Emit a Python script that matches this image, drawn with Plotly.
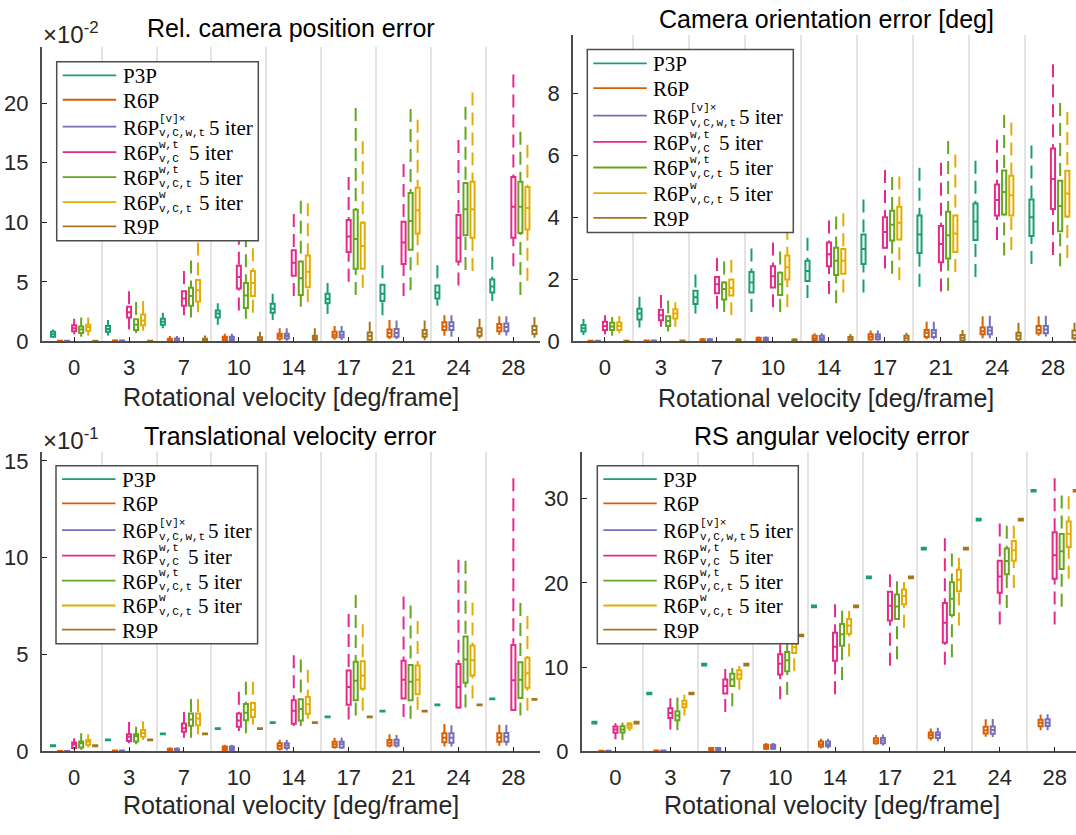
import plotly.graph_objects as go

# ---------------------------------------------------------------------------
# Categories and methods
# ---------------------------------------------------------------------------
VELOCITY_LABELS = ["0", "3", "7", "10", "14", "17", "21", "24", "28"]
METHODS = ["P3P", "R6P", "R6Pv", "R6Pwt_vC", "R6Pwt_vCt", "R6Pw_vCt", "R9P"]
COLORS = ["#1b9e77", "#d95f02", "#7570b3", "#e7298a", "#66a61e", "#e6ab02", "#a6761d"]

# ---------------------------------------------------------------------------
# Box statistics, one row per method (order of METHODS), one column per velocity
# lo / hi = whisker ends, q1 / med / q3 = box
# ---------------------------------------------------------------------------
# Rel. camera position error (x 1e-2)
POS_LO = [
    [0.3, 0.5, 1.1, 1.4, 1.8, 2.3, 2.2, 3.0, 3.4],
    [0.0, 0.0, 0.0, 0.02, 0.05, 0.14, 0.2, 0.47, 0.55],
    [0.0, 0.0, 0.0, 0.02, 0.05, 0.12, 0.2, 0.4, 0.5],
    [0.6, 1.0, 2.2, 2.6, 3.8, 5.0, 3.8, 4.7, 6.3],
    [0.4, 0.7, 2.0, 1.9, 2.9, 3.9, 4.3, 6.0, 3.9],
    [0.5, 0.9, 2.45, 2.4, 3.3, 4.5, 6.4, 5.9, 5.1],
    [0.0, 0.0, 0.0, 0.0, 0.05, 0.05, 0.1, 0.25, 0.3],
]
POS_Q1 = [
    [0.4, 0.8, 1.4, 2.0, 2.4, 3.2, 3.4, 3.6, 4.1],
    [0.0, 0.0, 0.05, 0.1, 0.25, 0.35, 0.4, 0.95, 0.85],
    [0.0, 0.0, 0.05, 0.1, 0.25, 0.35, 0.4, 0.95, 0.85],
    [0.85, 2.0, 3.0, 4.45, 5.5, 7.5, 6.5, 6.7, 8.7],
    [0.7, 0.95, 3.0, 2.8, 3.9, 6.1, 7.7, 8.9, 9.1],
    [0.9, 1.35, 3.35, 3.8, 4.55, 6.1, 9.05, 8.7, 9.4],
    [0.0, 0.0, 0.0, 0.05, 0.14, 0.14, 0.4, 0.47, 0.63],
]
POS_MED = [
    [0.6, 1.05, 1.65, 2.35, 2.75, 3.55, 4.0, 4.1, 4.6],
    [0.02, 0.03, 0.12, 0.22, 0.45, 0.55, 0.7, 1.25, 1.15],
    [0.02, 0.03, 0.12, 0.22, 0.45, 0.55, 0.7, 1.3, 1.2],
    [1.1, 2.45, 3.6, 5.4, 6.6, 8.8, 8.3, 8.7, 11.3],
    [1.0, 1.4, 3.8, 3.85, 5.3, 8.6, 10.1, 11.1, 11.3],
    [1.2, 1.75, 4.3, 4.9, 5.85, 8.0, 11.0, 11.1, 11.2],
    [0.02, 0.02, 0.1, 0.15, 0.3, 0.45, 0.65, 0.8, 0.95],
]
POS_Q3 = [
    [0.8, 1.3, 1.9, 2.6, 3.15, 4.0, 4.75, 4.7, 5.2],
    [0.05, 0.08, 0.22, 0.38, 0.65, 0.8, 1.0, 1.6, 1.45],
    [0.05, 0.08, 0.25, 0.38, 0.65, 0.8, 1.05, 1.6, 1.5],
    [1.35, 2.9, 4.2, 6.35, 7.65, 10.2, 10.05, 10.6, 13.8],
    [1.25, 1.85, 4.5, 4.9, 6.7, 11.05, 12.45, 13.3, 13.4],
    [1.4, 2.25, 5.15, 5.9, 7.2, 9.95, 12.9, 13.4, 12.95],
    [0.05, 0.05, 0.22, 0.35, 0.47, 0.74, 0.96, 1.1, 1.29],
]
POS_HI = [
    [1.0, 1.8, 2.4, 3.2, 4.0, 4.9, 6.4, 6.4, 7.1],
    [0.08, 0.15, 0.45, 0.65, 1.1, 1.3, 1.8, 2.2, 2.1],
    [0.08, 0.15, 0.45, 0.65, 1.1, 1.3, 1.75, 2.2, 2.1],
    [1.9, 4.2, 5.9, 9.2, 10.7, 13.8, 14.9, 16.9, 22.4],
    [2.0, 3.3, 6.8, 9.0, 11.8, 19.6, 19.5, 19.7, 17.6],
    [2.0, 3.4, 8.3, 9.5, 11.6, 16.8, 18.6, 20.9, 16.5],
    [0.08, 0.08, 0.5, 0.8, 1.1, 1.65, 1.75, 1.9, 2.05],
]

# Camera orientation error [deg]
ORI_LO = [
    [0.21, 0.45, 0.9, 0.95, 1.4, 1.58, 1.76, 2.08, 2.5],
    [0.0, 0.0, 0.0, 0.01, 0.02, 0.03, 0.07, 0.1, 0.18],
    [0.0, 0.0, 0.0, 0.01, 0.02, 0.03, 0.07, 0.1, 0.16],
    [0.23, 0.47, 1.05, 1.1, 1.53, 2.35, 1.61, 3.27, 2.79],
    [0.18, 0.32, 0.95, 0.95, 1.23, 2.18, 1.63, 2.77, 2.42],
    [0.26, 0.47, 0.84, 1.1, 1.58, 1.97, 2.24, 2.95, 2.69],
    [0.0, 0.0, 0.0, 0.0, 0.0, 0.0, 0.0, 0.0, 0.03],
]
ORI_Q1 = [
    [0.32, 0.71, 1.21, 1.58, 1.95, 2.5, 2.85, 3.27, 3.4],
    [0.0, 0.0, 0.0, 0.04, 0.04, 0.06, 0.14, 0.23, 0.26],
    [0.0, 0.0, 0.0, 0.04, 0.04, 0.07, 0.14, 0.23, 0.26],
    [0.37, 0.68, 1.55, 1.74, 2.42, 3.02, 2.55, 4.06, 4.27],
    [0.37, 0.5, 1.35, 1.5, 2.14, 3.25, 2.67, 4.09, 3.55],
    [0.37, 0.74, 1.48, 2.0, 2.18, 3.29, 2.88, 4.06, 4.03],
    [0.0, 0.0, 0.0, 0.0, 0.0, 0.0, 0.03, 0.07, 0.1],
]
ORI_MED = [
    [0.42, 0.9, 1.42, 1.9, 2.27, 2.98, 3.45, 3.87, 4.0],
    [0.01, 0.01, 0.03, 0.08, 0.1, 0.15, 0.28, 0.33, 0.37],
    [0.01, 0.01, 0.03, 0.08, 0.1, 0.15, 0.28, 0.35, 0.38],
    [0.5, 0.84, 1.84, 2.1, 2.81, 3.53, 3.14, 4.56, 5.24],
    [0.48, 0.66, 1.69, 1.84, 2.6, 3.76, 3.42, 4.82, 4.37],
    [0.5, 0.9, 1.72, 2.39, 2.6, 3.83, 3.48, 4.71, 4.77],
    [0.01, 0.01, 0.03, 0.03, 0.07, 0.1, 0.12, 0.18, 0.2],
]
ORI_Q3 = [
    [0.53, 1.05, 1.63, 2.24, 2.6, 3.45, 4.06, 4.45, 4.58],
    [0.02, 0.03, 0.07, 0.12, 0.18, 0.23, 0.37, 0.45, 0.5],
    [0.02, 0.03, 0.07, 0.12, 0.18, 0.22, 0.37, 0.46, 0.5],
    [0.63, 1.02, 2.08, 2.42, 3.19, 4.0, 3.72, 5.06, 6.22],
    [0.6, 0.81, 1.9, 2.21, 3.02, 4.21, 4.18, 5.51, 5.18],
    [0.61, 1.04, 2.0, 2.77, 2.98, 4.34, 4.06, 5.34, 5.5],
    [0.02, 0.03, 0.06, 0.06, 0.14, 0.18, 0.21, 0.28, 0.35],
]
ORI_HI = [
    [0.72, 1.44, 2.16, 3.0, 3.34, 4.58, 5.6, 5.83, 6.32],
    [0.03, 0.04, 0.1, 0.16, 0.26, 0.35, 0.63, 0.81, 0.81],
    [0.03, 0.04, 0.1, 0.16, 0.26, 0.35, 0.63, 0.83, 0.83],
    [0.84, 1.5, 2.69, 3.19, 3.9, 5.53, 5.76, 6.5, 8.94],
    [0.79, 1.32, 2.58, 2.9, 4.03, 5.3, 6.46, 7.3, 7.69],
    [0.82, 1.26, 2.63, 3.7, 4.13, 5.32, 6.03, 7.06, 7.4],
    [0.03, 0.04, 0.1, 0.1, 0.24, 0.28, 0.37, 0.6, 0.6],
]

# Translational velocity error (x 1e-1)
TVEL_LO = [
    [0.27, 0.57, 0.88, 1.16, 1.47, 1.76, 2.06, 2.38, 2.69],
    [0.0, 0.0, 0.0, 0.02, 0.05, 0.13, 0.2, 0.25, 0.29],
    [0.0, 0.0, 0.0, 0.02, 0.05, 0.12, 0.2, 0.25, 0.3],
    [0.1, 0.42, 0.71, 1.05, 1.31, 1.65, 1.77, 2.22, 2.1],
    [0.08, 0.37, 0.71, 0.93, 1.31, 1.85, 1.68, 2.27, 1.85],
    [0.2, 0.59, 0.88, 1.39, 1.68, 2.1, 2.15, 2.73, 2.1],
    [0.27, 0.57, 0.88, 1.16, 1.47, 1.76, 2.06, 2.38, 2.67],
]
TVEL_Q1 = [
    [0.27, 0.57, 0.88, 1.16, 1.47, 1.76, 2.06, 2.38, 2.69],
    [0.0, 0.0, 0.03, 0.05, 0.14, 0.22, 0.3, 0.47, 0.5],
    [0.0, 0.0, 0.03, 0.05, 0.17, 0.2, 0.3, 0.45, 0.5],
    [0.17, 0.54, 1.02, 1.27, 1.43, 2.41, 2.73, 2.26, 2.14],
    [0.2, 0.51, 1.32, 1.61, 1.6, 2.64, 2.64, 3.54, 2.76],
    [0.34, 0.76, 1.35, 1.78, 1.94, 3.23, 2.95, 3.92, 3.28],
    [0.27, 0.57, 0.88, 1.16, 1.47, 1.76, 2.06, 2.38, 2.67],
]
TVEL_MED = [
    [0.29, 0.59, 0.9, 1.18, 1.49, 1.78, 2.08, 2.4, 2.71],
    [0.01, 0.02, 0.08, 0.15, 0.28, 0.37, 0.45, 0.7, 0.72],
    [0.01, 0.02, 0.08, 0.15, 0.3, 0.37, 0.45, 0.7, 0.75],
    [0.35, 0.75, 1.2, 1.6, 2.1, 3.32, 3.7, 3.32, 3.67],
    [0.42, 0.78, 1.65, 2.0, 2.19, 3.65, 3.59, 4.75, 3.7],
    [0.5, 0.95, 1.7, 2.15, 2.44, 3.92, 3.7, 4.71, 4.04],
    [0.29, 0.59, 0.9, 1.18, 1.49, 1.78, 2.08, 2.4, 2.69],
]
TVEL_Q3 = [
    [0.31, 0.61, 0.92, 1.2, 1.51, 1.8, 2.1, 2.42, 2.73],
    [0.02, 0.04, 0.13, 0.25, 0.42, 0.5, 0.59, 0.93, 0.93],
    [0.02, 0.04, 0.13, 0.25, 0.42, 0.5, 0.6, 0.93, 0.95],
    [0.46, 0.88, 1.44, 1.95, 2.64, 4.18, 4.68, 4.51, 5.5],
    [0.51, 0.88, 1.95, 2.45, 2.69, 4.63, 4.46, 5.93, 4.6],
    [0.59, 1.1, 1.95, 2.5, 2.81, 4.66, 4.43, 5.47, 4.83],
    [0.31, 0.61, 0.92, 1.2, 1.51, 1.8, 2.1, 2.42, 2.71],
]
TVEL_HI = [
    [0.31, 0.61, 0.92, 1.2, 1.51, 1.8, 2.1, 2.42, 2.73],
    [0.04, 0.06, 0.2, 0.34, 0.6, 0.71, 0.88, 1.41, 1.38],
    [0.04, 0.06, 0.2, 0.34, 0.6, 0.72, 0.85, 1.35, 1.38],
    [0.68, 1.52, 2.03, 3.08, 4.97, 7.1, 8.0, 9.9, 14.1],
    [0.93, 1.27, 2.71, 3.6, 4.75, 8.08, 7.54, 9.85, 7.66],
    [0.88, 1.56, 2.71, 3.6, 4.21, 6.57, 6.73, 7.69, 6.99],
    [0.31, 0.61, 0.92, 1.2, 1.51, 1.8, 2.1, 2.42, 2.71],
]

# RS angular velocity error
RS_LO = [
    [3.31, 6.77, 10.2, 13.65, 17.1, 20.54, 23.96, 27.41, 30.83],
    [0.0, 0.0, 0.02, 0.2, 0.35, 0.78, 1.28, 1.75, 2.52],
    [0.0, 0.0, 0.02, 0.2, 0.35, 0.7, 1.2, 1.7, 2.5],
    [1.44, 2.6, 4.66, 6.2, 6.79, 10.17, 10.28, 15.06, 15.06],
    [1.36, 2.52, 5.36, 6.69, 8.46, 10.94, 11.18, 17.0, 17.15],
    [2.41, 4.27, 7.3, 9.52, 11.25, 14.67, 14.94, 19.4, 20.49],
    [3.31, 6.77, 10.2, 13.65, 17.1, 20.54, 23.96, 27.41, 30.83],
]
RS_Q1 = [
    [3.31, 6.77, 10.2, 13.65, 17.1, 20.54, 23.96, 27.41, 30.83],
    [0.0, 0.02, 0.08, 0.31, 0.58, 0.97, 1.63, 2.13, 2.99],
    [0.0, 0.02, 0.08, 0.31, 0.6, 0.97, 1.6, 2.1, 3.0],
    [2.2, 3.96, 6.87, 9.13, 10.75, 15.52, 12.88, 18.82, 20.49],
    [2.25, 3.69, 7.76, 9.52, 12.53, 15.72, 16.18, 21.03, 21.65],
    [2.79, 5.24, 8.61, 11.66, 13.97, 17.46, 19.01, 22.62, 24.25],
    [3.31, 6.77, 10.2, 13.65, 17.1, 20.54, 23.96, 27.41, 30.83],
]
RS_MED = [
    [3.41, 6.87, 10.3, 13.75, 17.2, 20.64, 24.06, 27.51, 30.93],
    [0.02, 0.05, 0.25, 0.55, 0.85, 1.25, 1.95, 2.5, 3.4],
    [0.02, 0.05, 0.25, 0.55, 0.85, 1.3, 1.95, 2.55, 3.4],
    [2.6, 4.54, 7.76, 10.4, 12.42, 17.27, 15.25, 20.76, 23.28],
    [2.6, 4.27, 8.54, 10.8, 13.89, 17.19, 18.12, 22.58, 23.75],
    [3.1, 5.63, 9.12, 12.36, 14.94, 18.43, 20.37, 23.86, 25.8],
    [3.41, 6.87, 10.3, 13.75, 17.2, 20.64, 24.06, 27.51, 30.93],
]
RS_Q3 = [
    [3.51, 6.97, 10.4, 13.85, 17.3, 20.74, 24.16, 27.61, 31.03],
    [0.06, 0.1, 0.39, 0.78, 1.16, 1.55, 2.25, 2.91, 3.76],
    [0.06, 0.1, 0.39, 0.78, 1.16, 1.6, 2.25, 2.95, 3.8],
    [2.95, 5.12, 8.54, 11.54, 14.09, 18.94, 17.62, 22.62, 26.0],
    [2.99, 4.77, 9.2, 11.78, 15.13, 18.63, 20.06, 24.06, 25.8],
    [3.3, 6.01, 9.62, 12.82, 15.72, 19.21, 21.54, 24.95, 27.28],
    [3.51, 6.97, 10.4, 13.85, 17.3, 20.74, 24.16, 27.61, 31.03],
]
RS_HI = [
    [3.51, 6.97, 10.4, 13.85, 17.3, 20.74, 24.16, 27.61, 31.03],
    [0.1, 0.15, 0.5, 1.0, 1.5, 1.94, 2.72, 3.8, 4.38],
    [0.1, 0.15, 0.5, 1.0, 1.5, 2.0, 2.8, 3.85, 4.4],
    [3.35, 6.29, 9.78, 12.7, 17.46, 21.03, 25.3, 27.05, 32.4],
    [3.41, 6.4, 9.9, 13.2, 16.69, 20.18, 23.48, 26.78, 30.35],
    [3.49, 6.71, 10.17, 13.99, 16.69, 20.1, 22.97, 26.78, 30.27],
    [3.51, 6.97, 10.4, 13.85, 17.3, 20.74, 24.16, 27.61, 31.03],
]

# ---------------------------------------------------------------------------
# Page geometry (pixels) and styling
# ---------------------------------------------------------------------------
W, H = 1076, 835
AX_COLOR = "#4d4d4d"
TXT_COLOR = "#262626"
SANS = "Liberation Sans, Arial, sans-serif"
SERIF = "Liberation Serif, Times New Roman, serif"
MONO = "Liberation Mono, DejaVu Sans Mono, monospace"
OFFSET_STEP = 0.128
BOX_W = 0.074
LW = 2.0


def fx(px):
    return px / W


def fy(py):
    return 1 - py / H


PANELS = [
    dict(ax="", title="Rel. camera position error", title_xy=(291, 25),
         xpix=(41.7, 540), ypix=(45, 345), xr=(-0.591, 8.485), yr=(0, 24.7),
         yt=[0, 5, 10, 15, 20], label_xy=(291, 402), expo="-2", expo_xy=(41, 31),
         legend=(56.7, 60, 201.6, 182.3),
         stats=(POS_LO, POS_Q1, POS_MED, POS_Q3, POS_HI)),
    dict(ax="2", title="Camera orientation error [deg]", title_xy=(826.5, 16),
         xpix=(573, 1076), ypix=(33, 345), xr=(-0.571, 8.411), yr=(0, 9.87),
         yt=[0, 2, 4, 6, 8], label_xy=(826, 403), expo=None, expo_xy=None,
         legend=(587.3, 47.3, 206, 186.7),
         stats=(ORI_LO, ORI_Q1, ORI_MED, ORI_Q3, ORI_HI)),
    dict(ax="3", title="Translational velocity error", title_xy=(290, 441),
         xpix=(41.7, 540), ypix=(458, 763), xr=(-0.591, 8.485), yr=(0, 15.45),
         yt=[0, 5, 10, 15], label_xy=(290.5, 818), expo="-1", expo_xy=(41, 445),
         legend=(56, 471.7, 201.6, 181.6),
         stats=(TVEL_LO, TVEL_Q1, TVEL_MED, TVEL_Q3, TVEL_HI)),
    dict(ax="4", title="RS angular velocity error", title_xy=(831.8, 441),
         xpix=(581.7, 1076), ypix=(458, 763), xr=(-0.615, 8.389), yr=(0, 35.5),
         yt=[0, 10, 20, 30], label_xy=(831.5, 818), expo=None, expo_xy=None,
         legend=(597.3, 471.7, 201, 181.6),
         stats=(RS_LO, RS_Q1, RS_MED, RS_Q3, RS_HI)),
]

fig = go.Figure()
shapes = []
annotations = []

for p in PANELS:
    xa, ya = "x" + p["ax"], "y" + p["ax"]
    lo_s, q1_s, med_s, q3_s, hi_s = p["stats"]

    for k, color in enumerate(COLORS):
        xs = [g + (k - 3) * OFFSET_STEP for g in range(len(VELOCITY_LABELS))]

        # dashed whiskers: each drawn from its tip back to the box edge
        wx, wy = [], []
        for i, x in enumerate(xs):
            if hi_s[k][i] > q3_s[k][i]:
                wx += [x, x, None]
                wy += [hi_s[k][i], q3_s[k][i], None]
            if lo_s[k][i] < q1_s[k][i]:
                wx += [x, x, None]
                wy += [lo_s[k][i], q1_s[k][i], None]
        fig.add_trace(go.Scatter(
            x=wx, y=wy, mode="lines", xaxis=xa, yaxis=ya,
            line=dict(color=color, width=LW, dash="13px,7px"),
            showlegend=False, hoverinfo="skip"))

        fig.add_trace(go.Box(
            x=xs, q1=q1_s[k], median=med_s[k], q3=q3_s[k],
            lowerfence=q1_s[k], upperfence=q3_s[k],
            orientation="v", width=BOX_W, whiskerwidth=0,
            line=dict(color=color, width=LW), fillcolor="white",
            boxpoints=False, xaxis=xa, yaxis=ya, showlegend=False,
            name=METHODS[k]))

    # axes
    fig.update_layout(**{
        "xaxis" + p["ax"]: dict(
            domain=[fx(p["xpix"][0]), fx(p["xpix"][1])], range=list(p["xr"]),
            anchor=ya, tickmode="array", tickvals=list(range(len(VELOCITY_LABELS))),
            ticktext=VELOCITY_LABELS, ticks="inside", ticklen=5, tickwidth=1.4,
            tickcolor=TXT_COLOR, showline=True, linecolor=AX_COLOR, linewidth=1.6,
            showgrid=False, zeroline=False, ticklabelstandoff=5,
            tickfont=dict(family=SANS, size=22, color=TXT_COLOR),
            minor=dict(tickmode="array",
                       tickvals=[g + 0.5 for g in range(len(VELOCITY_LABELS) - 1)],
                       showgrid=True, gridcolor="#e3e3e3", gridwidth=2, ticks=""),
        ),
        "yaxis" + p["ax"]: dict(
            domain=[fy(p["ypix"][1]), fy(p["ypix"][0])], range=list(p["yr"]),
            anchor=xa, tickmode="array", tickvals=p["yt"],
            ticks="inside", ticklen=5, tickwidth=1.4, tickcolor=TXT_COLOR,
            showline=True, linecolor=AX_COLOR, linewidth=1.6, showgrid=False,
            zeroline=False, ticklabelstandoff=7,
            tickfont=dict(family=SANS, size=22, color=TXT_COLOR),
        ),
    })

    # titles and axis label
    annotations.append(dict(
        text=p["title"], x=fx(p["title_xy"][0]), y=fy(p["title_xy"][1]),
        xref="paper", yref="paper", xanchor="center", yanchor="middle",
        showarrow=False, font=dict(family=SANS, size=25, color="#000000")))
    annotations.append(dict(
        text="Rotational velocity [deg/frame]", x=fx(p["label_xy"][0]),
        y=fy(p["label_xy"][1]), xref="paper", yref="paper", xanchor="center",
        yanchor="middle", showarrow=False,
        font=dict(family=SANS, size=25, color=TXT_COLOR)))
    if p["expo"]:
        annotations.append(dict(
            text="×10<sup>" + p["expo"] + "</sup>", x=fx(p["expo_xy"][0]),
            y=fy(p["expo_xy"][1]), xref="paper", yref="paper", xanchor="left",
            yanchor="middle", showarrow=False,
            font=dict(family=SANS, size=24, color=TXT_COLOR)))

    # legend box
    lx, ly, lw, lh = p["legend"]
    shapes.append(dict(type="rect", xref="paper", yref="paper",
                       x0=fx(lx), x1=fx(lx + lw), y0=fy(ly), y1=fy(ly + lh),
                       fillcolor="white", line=dict(color=AX_COLOR, width=1.5),
                       layer="above"))
    row_frac = [0.076, 0.212, 0.362, 0.505, 0.645, 0.785, 0.92]
    entries = [
        ("P3P", None, None, None),
        ("R6P", None, None, None),
        ("R6P", "v,C,w,t", "[v]×", 150),
        ("R6P", "v,C", "w,t", 130),
        ("R6P", "v,C,t", "w,t", 140),
        ("R6P", "v,C,t", "w", 140),
        ("R9P", None, None, None),
    ]
    for k, (base, sub, sup, iter_dx) in enumerate(entries):
        ry = ly + row_frac[k] * lh
        shapes.append(dict(type="line", xref="paper", yref="paper",
                           x0=fx(lx + 6), x1=fx(lx + 59.5), y0=fy(ry), y1=fy(ry),
                           line=dict(color=COLORS[k], width=1.8), layer="above"))
        annotations.append(dict(
            text=base, x=fx(lx + 64), y=fy(ry + 1), xref="paper", yref="paper",
            xanchor="left", yanchor="middle", showarrow=False,
            font=dict(family=SERIF, size=21, color="#000000")))
        if sub:
            annotations.append(dict(
                text=sub, x=fx(lx + 100.5), y=fy(ry + 7), xref="paper",
                yref="paper", xanchor="left", yanchor="middle", showarrow=False,
                font=dict(family=MONO, size=11, color="#000000")))
            annotations.append(dict(
                text=sup, x=fx(lx + 100.5), y=fy(ry - 7.5), xref="paper",
                yref="paper", xanchor="left", yanchor="middle", showarrow=False,
                font=dict(family=MONO, size=11, color="#000000")))
            annotations.append(dict(
                text="5 iter", x=fx(lx + iter_dx), y=fy(ry + 1), xref="paper",
                yref="paper", xanchor="left", yanchor="middle", showarrow=False,
                font=dict(family=SERIF, size=21, color="#000000")))

fig.update_layout(
    width=W, height=H, autosize=False,
    margin=dict(l=0, r=0, t=0, b=0),
    paper_bgcolor="white", plot_bgcolor="white",
    showlegend=False, boxmode="overlay",
    shapes=shapes, annotations=annotations,
)

fig.write_html("out.html")
